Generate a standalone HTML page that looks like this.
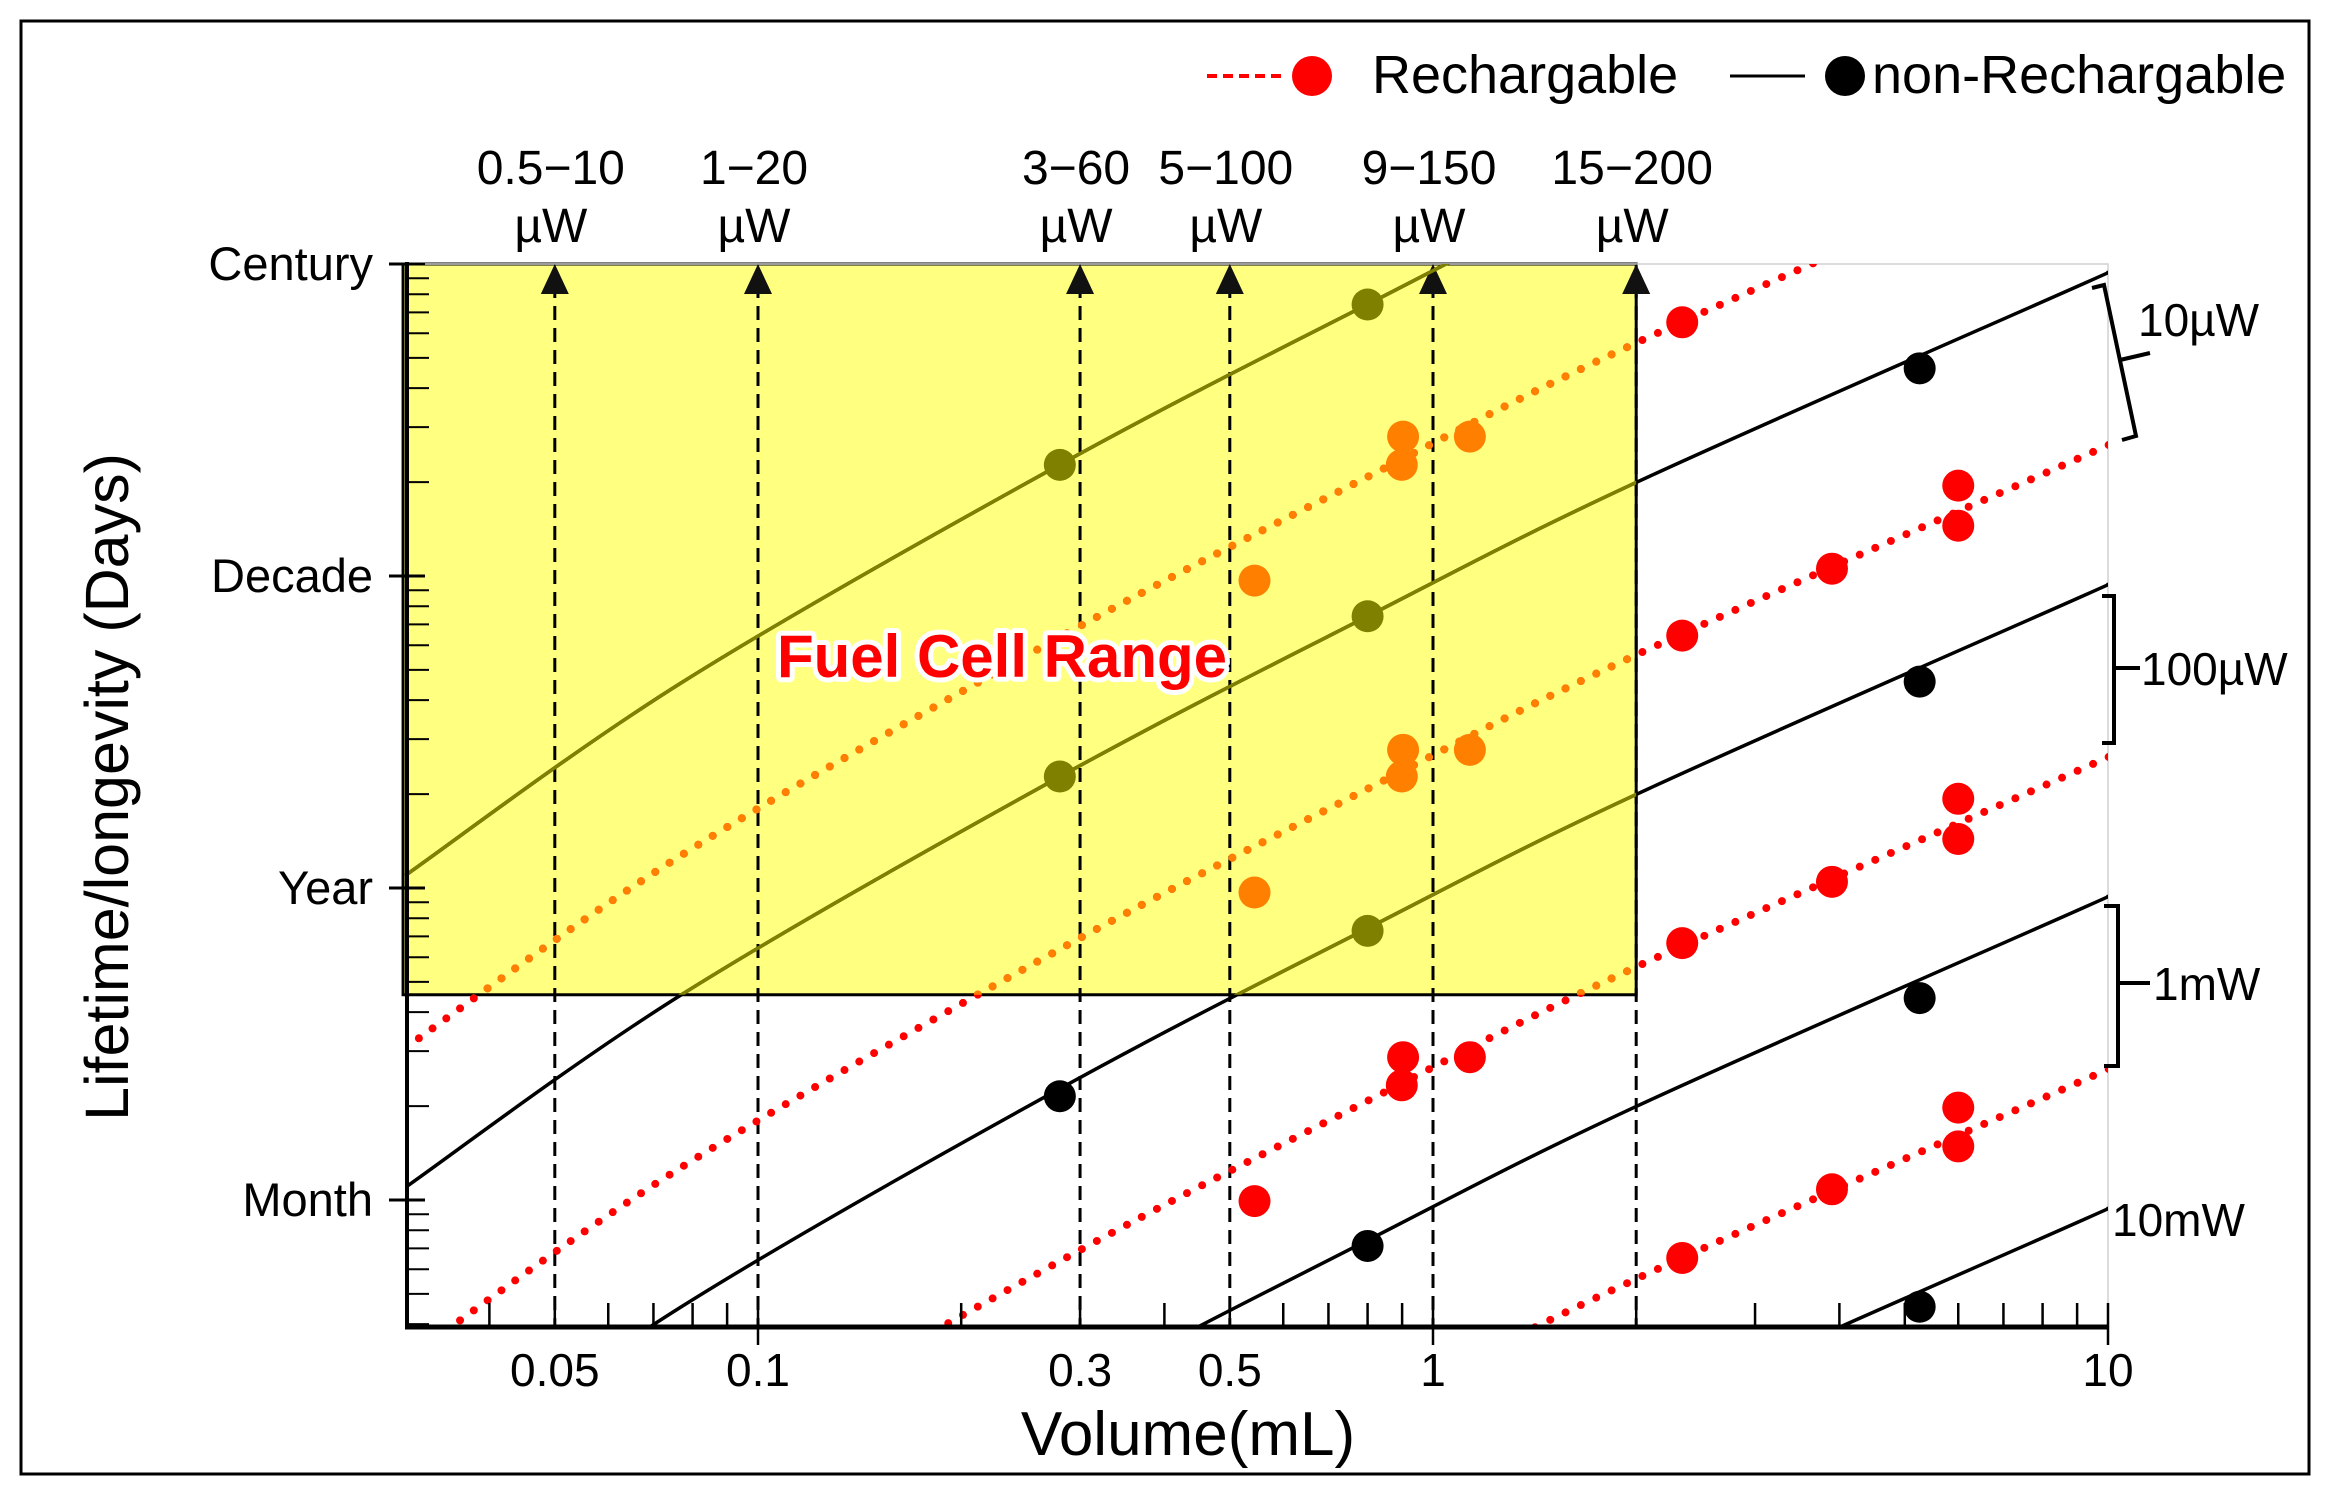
<!DOCTYPE html>
<html><head><meta charset="utf-8"><style>
html,body{margin:0;padding:0;background:#fff;overflow:hidden;width:2328px;height:1491px;}
svg{display:block;font-family:"Liberation Sans",sans-serif;}
</style></head><body>
<svg id="chart" width="2328" height="1491" viewBox="0 0 2328 1491" xmlns="http://www.w3.org/2000/svg">
<rect x="21" y="21" width="2288" height="1453" fill="#fff" stroke="#000" stroke-width="3"/>
<defs>
<clipPath id="plotClip"><rect x="407" y="264" width="1701" height="1063"/></clipPath>
<clipPath id="fuelClip"><rect id="fuelClipRect" x="0" y="0" width="0" height="0"/></clipPath>
</defs>
<g id="g-fuel"></g>
<g id="g-frame"></g>
<g id="g-dash"></g>
<g id="g-lines" clip-path="url(#plotClip)"></g>
<g id="g-lines-fuel" clip-path="url(#fuelClip)"></g>
<g id="g-dots"></g>
<g id="g-axes"></g>
<g id="g-labels"></g>
<text x="1002" y="677" text-anchor="middle" font-size="60" font-weight="bold" fill="#ff0000" stroke="#fff" stroke-width="10" stroke-linejoin="round" paint-order="stroke">Fuel Cell Range</text>
<text transform="translate(128,787) rotate(-90)" text-anchor="middle" font-size="61">Lifetime/longevity (Days)</text>
<text x="1188" y="1455" text-anchor="middle" font-size="62">Volume(mL)</text>
<g>
<line x1="1207" y1="76" x2="1282" y2="76" stroke="#ff0000" stroke-width="4" stroke-dasharray="10 6"/>
<circle cx="1312" cy="76" r="20" fill="#ff0000"/>
<text x="1372" y="93" font-size="54">Rechargable</text>
<line x1="1730" y1="76" x2="1805" y2="76" stroke="#000" stroke-width="3"/>
<circle cx="1845" cy="76" r="20" fill="#000"/>
<text x="1872" y="93" font-size="54">non-Rechargable</text>
</g>
</svg>
<script>
// ---- data ----
const baseVolumes = [0.03, 0.077, 0.28, 0.8, 2.0, 9.3, 10];          // mL
const baseLifetime10uW = [40, 166, 830, 2710, 7280, 31900, 34400];   // days at 10 µW
const solidPowers = [1, 10, 100, 1000, 10000];                        // µW
const dottedPowers = [1, 10, 100, 1000, 10000];                       // µW
const rechargeFactor = 0.28;
const nonRechVolumes = [0.80, 0.28, 0.80, 0.28, 0.80, 0.28, 0.80, 5.26, 5.26, 5.26, 5.26];
const nonRechLifetimes = [27070, 8290, 2712, 831, 266, 78.5, 26.0, 16900, 1674, 162, 16.6];
const rechVolumes = [2.34, 0.903, 1.134, 0.899, 0.544, 6.0, 6.0, 3.9, 2.34, 0.903, 1.134, 0.899, 0.544, 6.0, 6.0, 3.9, 2.34, 0.903, 1.134, 0.899, 0.544, 6.0, 6.0, 3.9, 2.34];
const rechLifetimes = [23740, 10210, 10210, 8290, 3528, 7110, 5290, 3852, 2351, 1012, 1012, 831, 353, 705, 524, 382, 243, 104.7, 104.7, 85.1, 36.2, 72.2, 54.2, 39.5, 23.8];
const fuelVolume = [0.03, 2];
const fuelLifetime = [166, 36500];
const markerVolumes = [0.05, 0.1, 0.3, 0.5, 1, 2];
const markerLabels = ["0.5\u221210", "1\u221220", "3\u221260", "5\u2212100", "9\u2212150", "15\u2212200"];
const xTickValues = [0.05, 0.1, 0.3, 0.5, 1, 10];
const xTickLabels = ["0.05", "0.1", "0.3", "0.5", "1", "10"];
const yTickValues = [36500, 3650, 365, 36.5];
const yTickLabels = ["Century", "Decade", "Year", "Month"];
const powerLabels = ["10\u00b5W", "100\u00b5W", "1mW", "10mW"];

// ---- scales ----
const X0 = 407, X1 = 2108, Y0 = 264, Y1 = 1327;
const xs = v => 1433 + 675 * Math.log10(v);
const ys = d => 264 + (Math.log10(36500) - Math.log10(d)) * 312;
const NS = "http://www.w3.org/2000/svg";
function mk(tag, attrs, parent) {
  const e = document.createElementNS(NS, tag);
  for (const k in attrs) e.setAttribute(k, attrs[k]);
  parent.appendChild(e);
  return e;
}
const G = id => document.getElementById(id);

// fuel cell region
const fx = xs(fuelVolume[0]) - 2, fx2 = xs(fuelVolume[1]);
const fy = ys(fuelLifetime[1]), fy2 = ys(fuelLifetime[0]);
const fr = mk("rect", {x: fx, y: fy, width: fx2 - fx, height: fy2 - fy, fill: "#ffff80", stroke: "#000", "stroke-width": 3}, G("g-fuel"));


const fc = G("fuelClipRect");
fc.setAttribute("x", fx); fc.setAttribute("y", fy); fc.setAttribute("width", fx2 - fx); fc.setAttribute("height", fy2 - fy);

// faint frame
const fl1 = mk("polyline", {points: `${X0},${Y0} ${X1},${Y0} ${X1},${Y1}`, fill: "none", stroke: "#d0d0d0", "stroke-width": 1.5}, G("g-frame"));



// dashed markers + arrows + labels
markerVolumes.forEach((v, i) => {
  const x = xs(v);
  const ln = mk("line", {x1: x, y1: Y0 + 20, x2: x, y2: Y1, stroke: "#000", "stroke-width": 3, "stroke-dasharray": "14 8"}, G("g-dash"));
  
  
  const ar = mk("polygon", {points: `${x - 14},${Y0 + 30} ${x + 14},${Y0 + 30} ${x},${Y0}`, fill: "#111"}, G("g-dash"));
  
  
  const t1 = mk("text", {x: x - 4, y: 184, "text-anchor": "middle", "font-size": 48}, G("g-dash"));
  t1.textContent = markerLabels[i];
  
  
  const t2 = mk("text", {x: x - 4, y: 242, "text-anchor": "middle", "font-size": 48}, G("g-dash"));
  t2.textContent = "\u00b5W";
  
  
});

// curves (smoothed Catmull-Rom through data points)
function curvePath(power, factor) {
  const p = baseVolumes.map((v, i) => [xs(v), ys(baseLifetime10uW[i] * 10 / power * factor)]);
  let d = `M${p[0][0]},${p[0][1]}`;
  for (let i = 0; i < p.length - 1; i++) {
    const p0 = p[Math.max(0, i - 1)], p1 = p[i], p2 = p[i + 1], p3 = p[Math.min(p.length - 1, i + 2)];
    const c1 = [p1[0] + (p2[0] - p0[0]) / 6, p1[1] + (p2[1] - p0[1]) / 6];
    const c2 = [p2[0] - (p3[0] - p1[0]) / 6, p2[1] - (p3[1] - p1[1]) / 6];
    d += ` C${c1[0]},${c1[1]} ${c2[0]},${c2[1]} ${p2[0]},${p2[1]}`;
  }
  return d;
}
function drawCurves(parent, solidColor, dotColor) {
  solidPowers.forEach(p => {
    const l = mk("path", {d: curvePath(p, 1), fill: "none", stroke: solidColor, "stroke-width": 3.5}, parent);
    
    
  });
  dottedPowers.forEach(p => {
    const l = mk("path", {d: curvePath(p, rechargeFactor), fill: "none", stroke: dotColor, "stroke-width": 8, "stroke-linecap": "round", "stroke-dasharray": "0 17"}, parent);
    
    
  });
}
drawCurves(G("g-lines"), "#000", "#ff0000");
drawCurves(G("g-lines-fuel"), "#808000", "#ff8000");

// dots
const inFuel = (x, y) => x > fx && x < fx2 && y > fy && y < fy2;
nonRechVolumes.forEach((v, i) => {
  const x = xs(v), y = ys(nonRechLifetimes[i]);
  const c = mk("circle", {cx: x, cy: y, r: 16, fill: inFuel(x, y) ? "#808000" : "#000"}, G("g-dots"));
  
  
});
rechVolumes.forEach((v, i) => {
  const x = xs(v), y = ys(rechLifetimes[i]);
  const c = mk("circle", {cx: x, cy: y, r: 16, fill: inFuel(x, y) ? "#ff8000" : "#ff0000"}, G("g-dots"));
  
  
});

// axes
const ax = G("g-axes");
const yl = mk("line", {x1: X0, y1: Y0 - 2, x2: X0, y2: Y1, stroke: "#000", "stroke-width": 4}, ax);


const xl = mk("line", {x1: X0 - 2, y1: Y1, x2: X1, y2: Y1, stroke: "#000", "stroke-width": 5}, ax);


yTickValues.forEach((d, i) => {
  const y = ys(d);
  const t = mk("line", {x1: X0 - 18, y1: y, x2: X0 + 18, y2: y, stroke: "#000", "stroke-width": 3}, ax);
  
  
  const tx = mk("text", {x: 373, y: y + 16, "text-anchor": "end", "font-size": 47}, ax);
  tx.textContent = yTickLabels[i];
  
  
  for (let k = 2; k <= 9; k++) {
    const yy = ys(d / 10 * k);
    if (yy > Y1 - 2 || yy < Y0) continue;
    const m = mk("line", {x1: X0, y1: yy, x2: X0 + 22, y2: yy, stroke: "#000", "stroke-width": 2}, ax);
    
    
  }
});
[0.01, 0.1, 1].forEach(dec => {
  for (let k = 2; k <= 9; k++) {
    const x = xs(dec * k);
    if (x < X0 + 2 || x > X1) continue;
    const m = mk("line", {x1: x, y1: Y1, x2: x, y2: Y1 - 24, stroke: "#000", "stroke-width": 2.5}, ax);
    
    
  }
});
[0.1, 1, 10].forEach(v => {
  const x = xs(v);
  const m = mk("line", {x1: x, y1: Y1 - 24, x2: x, y2: Y1 + 18, stroke: "#000", "stroke-width": 2.5}, ax);
  
  
});
xTickValues.forEach((v, i) => {
  const t = mk("text", {x: xs(v), y: 1386, "text-anchor": "middle", "font-size": 46}, ax);
  t.textContent = xTickLabels[i];
  
  
});

// power brackets/labels
const lg = G("g-labels");
const bracketPaths = [
  "M2092,288 L2104,285 L2136,436 L2122,440 M2120,360 L2150,353",
  "M2102,596 L2114,596 L2114,743 L2102,743 M2114,668 L2140,668",
  "M2104,906 L2118,906 L2118,1066 L2104,1066 M2118,983 L2150,983"
];
bracketPaths.forEach(d => {
  const p = mk("path", {d: d, fill: "none", stroke: "#000", "stroke-width": 4}, lg);
  
  
});
const plPos = [[2138, 336], [2141, 685], [2153, 1000], [2112, 1236]];
powerLabels.forEach((s, i) => {
  const t = mk("text", {x: plPos[i][0], y: plPos[i][1], "font-size": 46}, lg);
  t.textContent = s;
  
  
});
</script>
</body></html>
